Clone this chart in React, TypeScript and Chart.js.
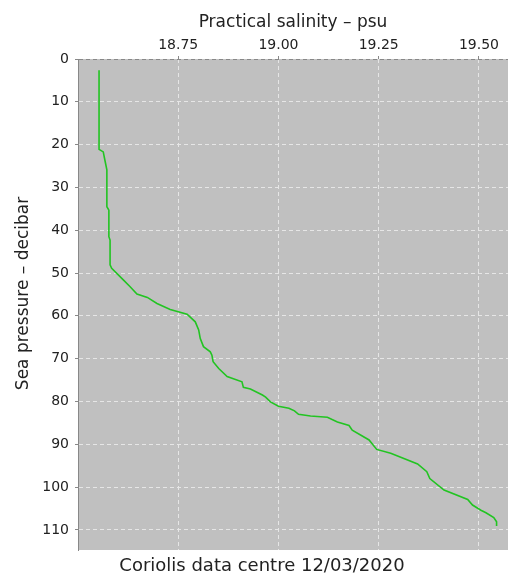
import { useEffect, useRef } from "react";
import { Chart, registerables } from "chart.js";

Chart.register(...registerables);

// Practical salinity (psu) along the profile
const salinity = [
  18.5525, 18.5525, 18.563, 18.567, 18.572, 18.572, 18.577, 18.577, 18.58, 18.58,
  18.584, 18.613, 18.63, 18.647, 18.673, 18.697, 18.73, 18.772, 18.7925, 18.801,
  18.805, 18.813, 18.83, 18.834, 18.837, 18.851, 18.872, 18.909, 18.9125, 18.93,
  18.96, 18.968, 18.98, 19.0, 19.026, 19.04, 19.05, 19.08, 19.122, 19.147,
  19.176, 19.184, 19.226, 19.245, 19.28, 19.347, 19.37, 19.3775, 19.413, 19.472,
  19.484, 19.505, 19.5175, 19.537, 19.544, 19.544,
];

// Sea pressure (decibar) for each salinity value
const pressure = [
  2.6, 21.1, 21.7, 23.6, 25.9, 34.5, 35.3, 41.5, 42.3, 48.1,
  48.9, 51.6, 53.2, 54.9, 55.7, 57.1, 58.5, 59.6, 61.4, 63.3,
  65.3, 67.2, 68.4, 69.2, 70.7, 72.3, 74.2, 75.4, 76.7, 77.1,
  78.5, 79.0, 80.1, 81.1, 81.6, 82.2, 83.0, 83.4, 83.7, 84.8,
  85.6, 86.7, 89.0, 91.2, 92.1, 94.6, 96.4, 98.0, 100.7, 102.9,
  104.2, 105.4, 106.0, 107.1, 108.1, 109.1,
];

const xTicks = [18.75, 19.0, 19.25, 19.5];
const yTicks = [0, 10, 20, 30, 40, 50, 60, 70, 80, 90, 100, 110];

const xTitle = "Practical salinity \u2013 psu";
const yTitle = "Sea pressure \u2013 decibar";
const footnote = "Coriolis data centre 12/03/2020";

const FONT = "'DejaVu Sans', sans-serif";

const plotBackground = {
  id: "plotBackground",
  beforeDraw(chart: any) {
    const { ctx, chartArea } = chart;
    ctx.save();
    ctx.fillStyle = "#c0c0c0";
    ctx.fillRect(
      chartArea.left,
      chartArea.top,
      chartArea.right - chartArea.left,
      chartArea.bottom - chartArea.top
    );
    ctx.restore();
  },
};

const extraText = {
  id: "extraText",
  afterDraw(chart: any) {
    const { ctx, chartArea } = chart;
    ctx.save();
    ctx.fillStyle = "#222";
    ctx.textAlign = "center";
    ctx.textBaseline = "middle";
    // rotated y-axis title
    ctx.font = `17px ${FONT}`;
    ctx.translate(24, (chartArea.top + chartArea.bottom) / 2 - 11);
    ctx.rotate(-Math.PI / 2);
    ctx.fillText(yTitle, 0, 0);
    ctx.restore();

    ctx.save();
    ctx.fillStyle = "#222";
    ctx.textAlign = "center";
    ctx.textBaseline = "middle";
    ctx.font = `18px ${FONT}`;
    ctx.fillText(footnote, 262, chartArea.bottom + 16);
    ctx.restore();
  },
};

export default function App() {
  const canvasRef = useRef<HTMLCanvasElement | null>(null);

  useEffect(() => {
    if (!canvasRef.current) return;
    const points = salinity.map((s, i) => ({ x: s, y: pressure[i] }));
    const chart = new Chart(canvasRef.current, {
      type: "line",
      data: {
        datasets: [
          {
            data: points,
            borderColor: "#22c422",
            borderWidth: 1.6,
            pointRadius: 0,
            fill: false,
            tension: 0,
          },
        ],
      },
      options: {
        animation: false,
        responsive: false,
        maintainAspectRatio: false,
        layout: { padding: { left: 0, right: 0, top: 0, bottom: 29 } },
        plugins: {
          legend: { display: false },
          tooltip: { enabled: false },
          title: { display: false },
        },
        scales: {
          x: {
            type: "linear",
            position: "top",
            min: 18.5,
            max: 19.5725,
            afterBuildTicks: (scale: any) => {
              scale.ticks = xTicks.map((v) => ({ value: v }));
            },
            afterFit: (scale: any) => {
              scale.height = 59;
            },
            ticks: {
              padding: 2,
              color: "#222",
              font: { family: FONT, size: 14 },
              callback: (v: any) => Number(v).toFixed(2),
            },
            grid: {
              color: "#e6e6e6",
              tickColor: "#888",
              tickLength: 3,
            },
            border: { display: false, dash: [4, 3] },
            title: {
              display: true,
              text: xTitle,
              color: "#222",
              font: { family: FONT, size: 17 },
              padding: { top: 12, bottom: 0 },
            },
          },
          y: {
            type: "linear",
            reverse: true,
            min: 0,
            max: 114.7,
            afterBuildTicks: (scale: any) => {
              scale.ticks = yTicks.map((v) => ({ value: v }));
            },
            afterFit: (scale: any) => {
              scale.width = 78;
            },
            ticks: {
              padding: 6,
              color: "#222",
              font: { family: FONT, size: 14 },
              callback: (v: any) => String(v),
            },
            grid: {
              color: (ctx: any) => (ctx.tick && ctx.tick.value === 0 ? "#888" : "#e6e6e6"),
              tickColor: "#888",
              tickLength: 3,
            },
            border: { display: true, color: "#888", width: 1, dash: [4, 3] },
            title: { display: false },
          },
        },
      },
      plugins: [plotBackground, extraText],
    });
    return () => chart.destroy();
  }, []);

  return (
    <div style={{ position: "absolute", left: 0, top: 0, width: 508, height: 579 }}>
      <canvas ref={canvasRef} width={508} height={579} style={{ display: "block" }} />
    </div>
  );
}
